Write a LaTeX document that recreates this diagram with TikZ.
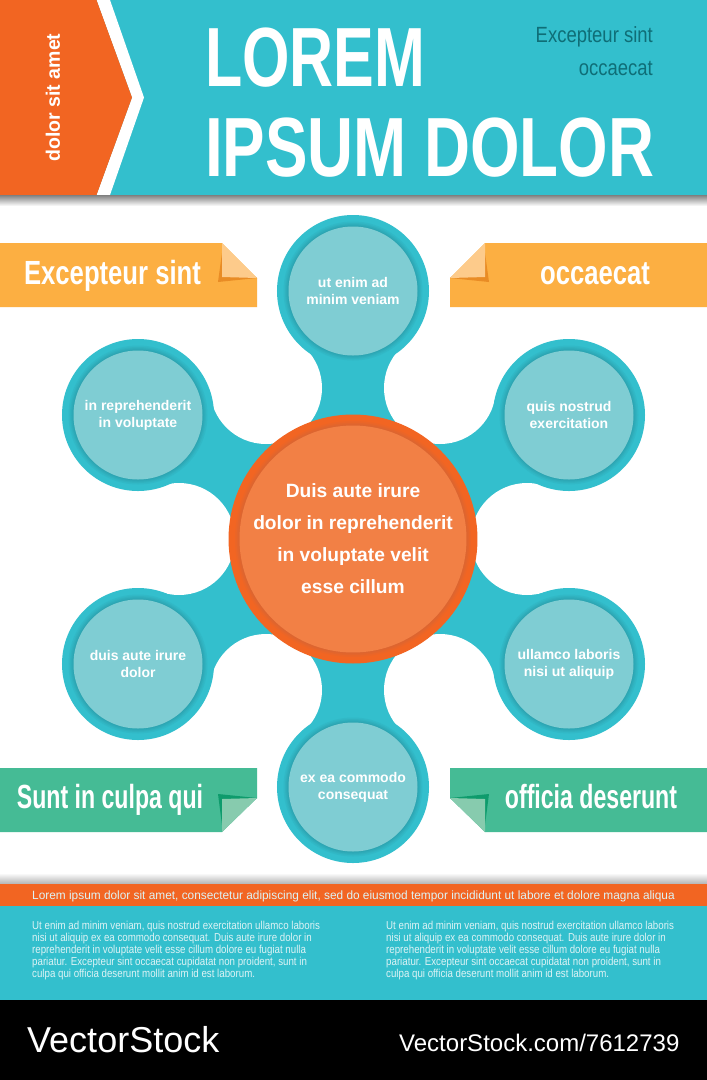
\documentclass[tikz,border=0pt]{standalone}
\usepackage{fontspec}
\setmainfont{Liberation Sans}
\usetikzlibrary{backgrounds}
\definecolor{webteal}{HTML}{33BFCD}
\definecolor{ringteal}{HTML}{2CA5B2}
\definecolor{satfill}{HTML}{7FCDD3}
\definecolor{hubring}{HTML}{F26522}
\definecolor{hubshade}{HTML}{DD6530}
\definecolor{hubfill}{HTML}{F28045}
\definecolor{darkteal}{HTML}{0F6E77}
\definecolor{amber}{HTML}{FCAF42}
\definecolor{amberlight}{HTML}{FDCB8B}
\definecolor{amberdark}{HTML}{E98C25}
\definecolor{jade}{HTML}{45BB95}
\definecolor{jadelight}{HTML}{87CBAE}
\definecolor{jadedark}{HTML}{0E9B6C}
\definecolor{smalltext}{HTML}{DDF3F5}
\newcommand{\squeeze}[2]{\scalebox{#1}[1]{#2}}
\tikzset{sat node/.style={circle, minimum size=129pt, inner sep=0pt, outer sep=0pt, align=center, text=white,
    font=\fontsize{14}{17}\selectfont\bfseries, fill=satfill,
    preaction={draw=webteal, line width=23pt}, preaction={draw=ringteal!25!webteal, line width=10pt},
    preaction={draw=ringteal!50!webteal, line width=7pt}, preaction={draw=ringteal!75!webteal, line width=4.5pt},
    preaction={draw=ringteal, line width=2pt}}}
\tikzset{hub node/.style={circle, minimum size=226pt, inner sep=0pt, outer sep=0pt, align=center, text=white,
    font=\fontsize{19.2}{32}\selectfont\bfseries, fill=hubfill,
    preaction={draw=hubring, line width=22pt}, preaction={draw=hubshade!35!hubring, line width=9pt},
    preaction={draw=hubshade!70!hubring, line width=5.5pt}, preaction={draw=hubshade, line width=2.5pt}}}
\tikzset{bite node/.style={circle, minimum size=112pt, inner sep=0pt, outer sep=0pt, fill=white}}
\tikzset{title text/.style={anchor=base west, inner sep=0pt, text=white, font=\fontsize{84}{84}\selectfont\bfseries}}
\tikzset{ribbon text/.style={anchor=base, inner sep=0pt, text=white, font=\fontsize{33.5}{34}\selectfont\bfseries}}
\tikzset{note text/.style={anchor=base east, inner sep=0pt, text=darkteal, font=\fontsize{22}{22}\selectfont}}
\tikzset{column text/.style={anchor=north west, inner sep=0pt, align=left, text=smalltext, font=\fontsize{11.5}{12}\selectfont}}
\tikzset{brand text/.style={anchor=base west, inner sep=0pt, text=white}}

\begin{document}
\begin{tikzpicture}
          [x=1pt, y=-1pt]
          \useasboundingbox (0, 0) rectangle (707, 1080);

          \node [hub node] (hub)  at (353, 539) {Duis aute irure\\dolor in reprehenderit\\in voluptate velit\\esse cillum};
          \node [sat node] (sat1) at (353, 291) {ut enim ad\\minim veniam};
          \node [sat node] (sat2) at (569, 415) {quis nostrud\\exercitation};
          \node [sat node] (sat3) at (569, 664) {ullamco laboris\\nisi ut aliquip};
          \node [sat node] (sat4) at (353, 787) {ex ea commodo\\consequat};
          \node [sat node] (sat5) at (138, 664) {duis aute irure\\dolor};
          \node [sat node] (sat6) at (138, 415) {in reprehenderit\\in voluptate};

          \begin{scope}[on background layer]
            \fill [white] (0, 0) rectangle (707, 1080);
            \coordinate (bite1) at (440, 388);
            \coordinate (bite2) at (527, 539);
            \coordinate (bite3) at (440, 690);
            \coordinate (bite4) at (266, 690);
            \coordinate (bite5) at (179, 539);
            \coordinate (bite6) at (266, 388);
            \fill [webteal] (sat1.center) -- (bite1) -- (sat2.center) -- (bite2) -- (sat3.center) -- (bite3)
              -- (sat4.center) -- (bite4) -- (sat5.center) -- (bite5) -- (sat6.center) -- (bite6) -- cycle;
            \node [bite node] (hole1) at (bite1) {};
            \node [bite node] (hole2) at (bite2) {};
            \node [bite node] (hole3) at (bite3) {};
            \node [bite node] (hole4) at (bite4) {};
            \node [bite node] (hole5) at (bite5) {};
            \node [bite node] (hole6) at (bite6) {};
          \end{scope}

          \fill [webteal] (0, 0) rectangle (707, 195);
          \fill [white] (96.5, 0) -- (110, 0) -- (144, 97.5) -- (110, 195) -- (96.5, 195) -- (132, 97.5) -- cycle;
          \fill [hubring] (0, 0) -- (96.5, 0) -- (132, 97.5) -- (96.5, 195) -- (0, 195) -- cycle;
          \shade [top color=black!50, bottom color=white] (0, 195) rectangle (707, 206);

          \node [anchor=center, inner sep=0pt, rotate=90, text=white, font=\fontsize{19.5}{20}\selectfont\bfseries] (side) at (53, 97.5) {dolor sit amet};
          \node [title text] (title1) at (205, 86)  {\squeeze{0.726}{LOREM}};
          \node [title text] (title2) at (205, 176) {\squeeze{0.758}{IPSUM DOLOR}};
          \node [note text]  (note1)  at (653, 42)  {\squeeze{0.84}{Excepteur sint}};
          \node [note text]  (note2)  at (653, 75)  {\squeeze{0.84}{occaecat}};

          \fill [amber] (0, 243) -- (222, 243) -- (257, 278) -- (257, 307) -- (0, 307) -- cycle;
          \fill [amberdark] (222, 253) -- (218, 282) -- (257, 278) -- cycle;
          \fill [amberlight] (222, 243) -- (257, 278) -- (222, 277) -- cycle;
          \fill [amber] (485, 243) -- (707, 243) -- (707, 307) -- (450, 307) -- (450, 278) -- cycle;
          \fill [amberdark] (485, 253) -- (489, 282) -- (450, 278) -- cycle;
          \fill [amberlight] (485, 243) -- (450, 278) -- (485, 277) -- cycle;
          \fill [jade] (0, 768) -- (257, 768) -- (257, 798) -- (222, 832) -- (0, 832) -- cycle;
          \fill [jadedark] (218, 794) -- (257, 798) -- (222, 825) -- cycle;
          \fill [jadelight] (222, 832) -- (257, 798) -- (222, 799) -- cycle;
          \fill [jade] (450, 768) -- (707, 768) -- (707, 832) -- (485, 832) -- (450, 798) -- cycle;
          \fill [jadedark] (489, 794) -- (450, 798) -- (485, 825) -- cycle;
          \fill [jadelight] (485, 832) -- (450, 798) -- (485, 799) -- cycle;

          \node [ribbon text] (tag1) at (112.5, 284) {\squeeze{0.766}{Excepteur sint}};
          \node [ribbon text] (tag2) at (595, 284)   {\squeeze{0.766}{occaecat}};
          \node [ribbon text] (tag3) at (110, 808)   {\squeeze{0.69}{Sunt in culpa qui}};
          \node [ribbon text] (tag4) at (591, 808)   {\squeeze{0.69}{officia deserunt}};

          \shade [top color=white, bottom color=black!30] (0, 873) rectangle (707, 884);
          \fill [hubring] (0, 884) rectangle (707, 906);
          \fill [webteal] (0, 906) rectangle (707, 1000);
          \fill [black] (0, 1000) rectangle (707, 1080);

          \node [anchor=base, inner sep=0pt, text=smalltext, font=\fontsize{12}{12}\selectfont] (strap) at (353.5, 899)
            {\squeeze{0.988}{Lorem ipsum dolor sit amet, consectetur adipiscing elit, sed do eiusmod tempor incididunt ut labore et dolore magna aliqua}};
          \node [column text] (col1) at (32, 920.5)
            {\squeeze{0.845}{Ut enim ad minim veniam, quis nostrud exercitation ullamco laboris}\\
             \squeeze{0.845}{nisi ut aliquip ex ea commodo consequat. Duis aute irure dolor in}\\
             \squeeze{0.845}{reprehenderit in voluptate velit esse cillum dolore eu fugiat nulla}\\
             \squeeze{0.845}{pariatur. Excepteur sint occaecat cupidatat non proident, sunt in}\\
             \squeeze{0.845}{culpa qui officia deserunt mollit anim id est laborum.}};
          \node [column text] (col2) at (386, 920.5)
            {\squeeze{0.845}{Ut enim ad minim veniam, quis nostrud exercitation ullamco laboris}\\
             \squeeze{0.845}{nisi ut aliquip ex ea commodo consequat. Duis aute irure dolor in}\\
             \squeeze{0.845}{reprehenderit in voluptate velit esse cillum dolore eu fugiat nulla}\\
             \squeeze{0.845}{pariatur. Excepteur sint occaecat cupidatat non proident, sunt in}\\
             \squeeze{0.845}{culpa qui officia deserunt mollit anim id est laborum.}};

          \node [brand text, font=\fontsize{36}{36}\selectfont] (brand) at (27, 1052)  {VectorStock};
          \node [brand text, font=\fontsize{24}{24}\selectfont]   (link)  at (399, 1051) {VectorStock.com/7612739};
        \end{tikzpicture}
\end{document}
